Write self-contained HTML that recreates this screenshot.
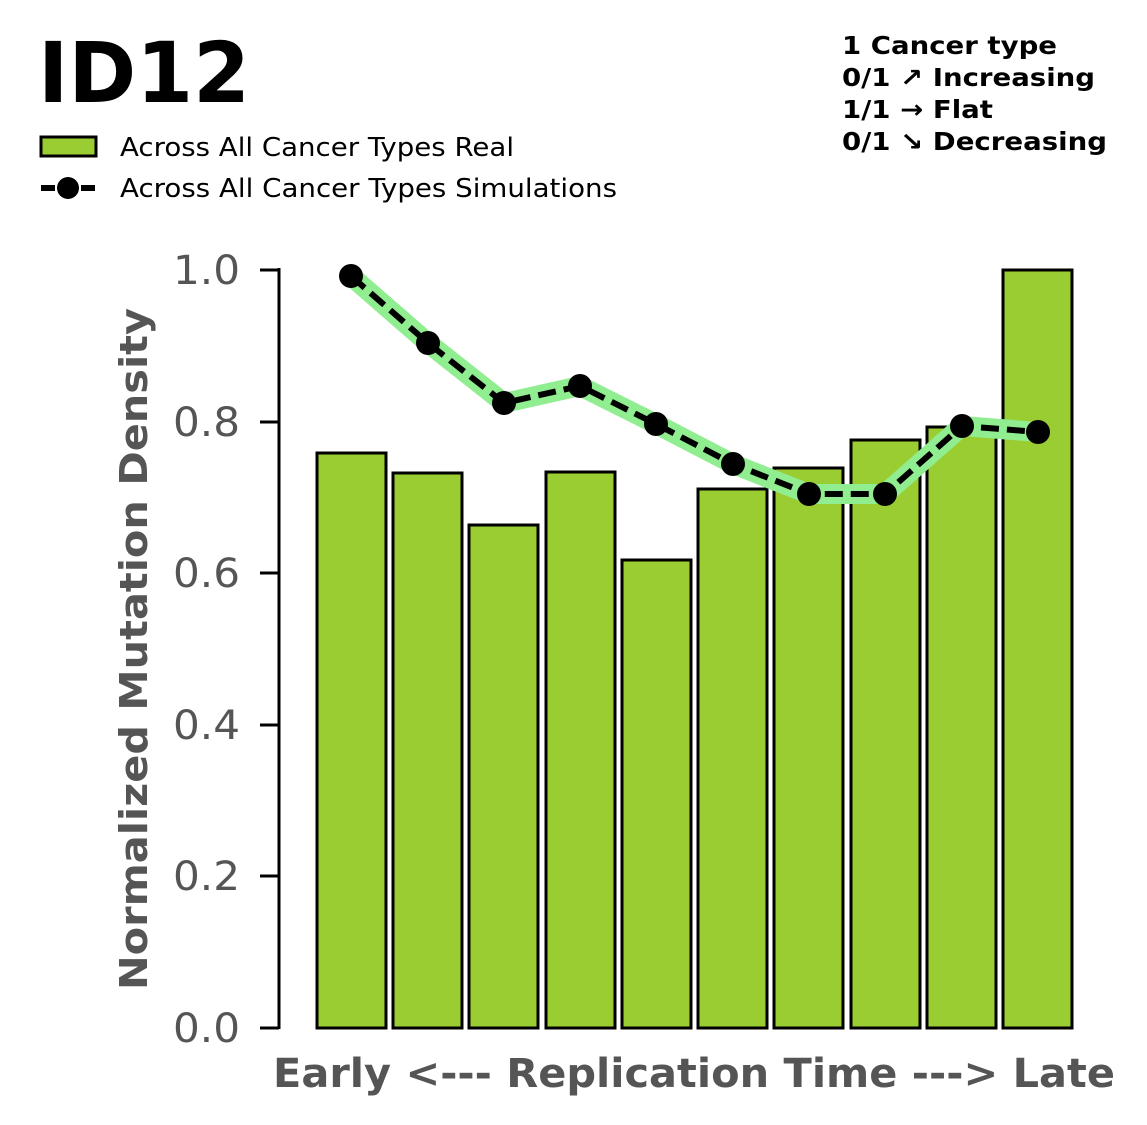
<!DOCTYPE html>
<html><head><meta charset="utf-8"><style>
html,body{margin:0;padding:0;background:#fff}
svg{display:block}
text{font-family:"DejaVu Sans","Liberation Sans",sans-serif}
</style></head><body>
<svg width="1147" height="1125" viewBox="0 0 1147 1125" xmlns="http://www.w3.org/2000/svg">
<text x="38" y="102" font-size="84" font-weight="bold" fill="#000" textLength="212" lengthAdjust="spacingAndGlyphs">ID12</text>
<rect x="41" y="137" width="55" height="19" fill="#9acd32" stroke="#000" stroke-width="3"/>
<text x="120" y="156" font-size="26" fill="#000" textLength="394" lengthAdjust="spacingAndGlyphs">Across All Cancer Types Real</text>
<line x1="41" y1="188" x2="96" y2="188" stroke="#000" stroke-width="6" stroke-dasharray="14,6"/>
<circle cx="68" cy="188" r="11" fill="#000"/>
<text x="120" y="197" font-size="26" fill="#000" textLength="497" lengthAdjust="spacingAndGlyphs">Across All Cancer Types Simulations</text>
<g font-size="25" font-weight="bold" fill="#000">
<text x="842" y="54" textLength="215" lengthAdjust="spacingAndGlyphs">1 Cancer type</text>
<text x="842" y="86" textLength="253" lengthAdjust="spacingAndGlyphs">0/1 ↗ Increasing</text>
<text x="842" y="118" textLength="151" lengthAdjust="spacingAndGlyphs">1/1 → Flat</text>
<text x="842" y="150" textLength="265" lengthAdjust="spacingAndGlyphs">0/1 ↘ Decreasing</text>
</g>
<line x1="279" y1="268" x2="279" y2="1029" stroke="#000" stroke-width="3"/>
<g stroke="#000" stroke-width="3">
<line x1="260" y1="1028" x2="279" y2="1028"/><line x1="260" y1="876" x2="279" y2="876"/>
<line x1="260" y1="725" x2="279" y2="725"/><line x1="260" y1="573" x2="279" y2="573"/>
<line x1="260" y1="422" x2="279" y2="422"/><line x1="260" y1="270" x2="279" y2="270"/>
</g>
<g font-size="40" fill="#555">
<text x="173" y="1042" textLength="67" lengthAdjust="spacingAndGlyphs">0.0</text>
<text x="173" y="890" textLength="67" lengthAdjust="spacingAndGlyphs">0.2</text>
<text x="173" y="739" textLength="67" lengthAdjust="spacingAndGlyphs">0.4</text>
<text x="173" y="587" textLength="67" lengthAdjust="spacingAndGlyphs">0.6</text>
<text x="173" y="436" textLength="67" lengthAdjust="spacingAndGlyphs">0.8</text>
<text x="173" y="284" textLength="67" lengthAdjust="spacingAndGlyphs">1.0</text>
</g>
<text transform="translate(147,990) rotate(-90)" font-size="38" font-weight="bold" fill="#555" textLength="682" lengthAdjust="spacingAndGlyphs">Normalized Mutation Density</text>
<text x="273" y="1087" font-size="40" font-weight="bold" fill="#555" textLength="842" lengthAdjust="spacingAndGlyphs">Early &lt;--- Replication Time ---&gt; Late</text>
<g fill="#9acd32" stroke="#000" stroke-width="3">
<rect x="317" y="453" width="69" height="575"/>
<rect x="393" y="473" width="69" height="555"/>
<rect x="469" y="525" width="69" height="503"/>
<rect x="546" y="472" width="69" height="556"/>
<rect x="622" y="560" width="69" height="468"/>
<rect x="698" y="489" width="69" height="539"/>
<rect x="774" y="468" width="69" height="560"/>
<rect x="851" y="440" width="69" height="588"/>
<rect x="927" y="427" width="69" height="601"/>
<rect x="1003" y="270" width="69" height="758"/>
</g>
<polyline points="351,276 428,343 504,403 580,386 656,424 733,464 809,494 885,494 962,426 1038,432" fill="none" stroke="#90ee90" stroke-width="20" stroke-linejoin="round"/>
<polyline points="351,276 428,343 504,403 580,386 656,424 733,464 809,494 885,494 962,426 1038,432" fill="none" stroke="#000" stroke-width="6" stroke-dasharray="18,8"/>
<g fill="#000">
<circle cx="351" cy="276" r="12"/><circle cx="428" cy="343" r="12"/><circle cx="504" cy="403" r="12"/>
<circle cx="580" cy="386" r="12"/><circle cx="656" cy="424" r="12"/><circle cx="733" cy="464" r="12"/>
<circle cx="809" cy="494" r="12"/><circle cx="885" cy="494" r="12"/><circle cx="962" cy="426" r="12"/>
<circle cx="1038" cy="432" r="12"/>
</g>
</svg>
</body></html>
